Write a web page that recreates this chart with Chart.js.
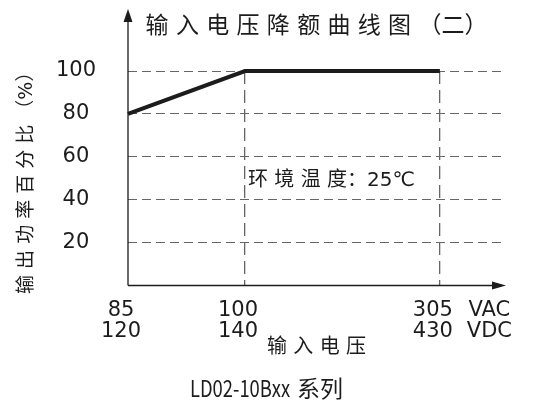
<!DOCTYPE html>
<html>
<head>
<meta charset="utf-8">
<script src="https://cdn.jsdelivr.net/npm/chart.js@4/dist/chart.umd.min.js"></script>
<style>
  html, body { margin: 0; padding: 0; background: #fff; }
  #wrap { width: 539px; height: 403px; }
</style>
</head>
<body>
<div id="wrap"><canvas id="derating"></canvas></div>
<script>
// input voltage marks (AC row / DC row) and where they sit on the schematic axis
const vacTicks = ['85', '100', '305']
const vdcTicks = ['120', '140', '430']
const unitLabel = ['VAC', 'VDC']
const tickSlots = [0, 3, 8]
const unitSlot = 9.45
const axisEnd = 9.67

// output power in % of rated load at each voltage mark
const loadPct = [80, 100, 100]
const yTicks = [20, 40, 60, 80, 100]

const ink = '#1c1c1c'
const gridGray = '#666666'
const sans = "'DejaVu Sans', 'Noto Sans CJK SC', sans-serif"
const cjk = "'Noto Sans CJK SC', sans-serif"

// axis lines with arrow heads, the ambient temperature note and the series caption
const axesPlugin = {
    id: 'axesArrows',
    afterDatasetsDraw(chart) {
        let { ctx, chartArea } = chart
        let { left, right, bottom } = chartArea
        let x = chart.scales.x, y = chart.scales.y
        ctx.save()
        ctx.strokeStyle = ink
        ctx.fillStyle = ink
        ctx.lineWidth = 1.3

        ctx.beginPath()
        ctx.moveTo(left, bottom)
        ctx.lineTo(left, 12)
        ctx.moveTo(left, bottom)
        ctx.lineTo(right - 4, bottom)
        ctx.stroke()

        ctx.beginPath()
        ctx.moveTo(left, 9)
        ctx.lineTo(left - 4.5, 22)
        ctx.lineTo(left + 4.5, 22)
        ctx.closePath()
        ctx.fill()

        ctx.beginPath()
        ctx.moveTo(right + 1, bottom)
        ctx.lineTo(right - 13, bottom - 4)
        ctx.lineTo(right - 13, bottom + 4)
        ctx.closePath()
        ctx.fill()

        ctx.font = '20px ' + sans
        ctx.textAlign = 'left'
        ctx.textBaseline = 'middle'
        let ty = (y.getPixelForValue(yTicks[1]) + y.getPixelForValue(yTicks[2])) / 2 + 3
        ctx.fillText('环 境 温 度：25℃', x.getPixelForValue(tickSlots[1]) + 3, ty)

        // model caption: the part number is set in a condensed face
        let model = 'LD02-10Bxx', series = '系列'
        ctx.font = '23px ' + cjk
        ctx.textBaseline = 'alphabetic'
        let squeeze = 0.8
        let mw = ctx.measureText(model).width * squeeze
        let sw = ctx.measureText(series).width
        let cx = chart.width / 2 - 3 - (mw + 7 + sw) / 2
        let by = chart.height - 6
        ctx.save()
        ctx.translate(cx, by)
        ctx.scale(squeeze, 1)
        ctx.fillText(model, 0, 0)
        ctx.restore()
        ctx.fillText(series, cx + mw + 7, by)
        ctx.restore()
    }
}

const points = tickSlots.map((s, i) => ({ x: s, y: loadPct[i] }))

new Chart(document.getElementById('derating'), {
    type: 'line',
    data: {
        datasets: [{
            data: points,
            borderColor: ink,
            borderWidth: 4,
            pointRadius: 0,
            tension: 0,
            clip: false
        }]
    },
    options: {
        responsive: true,
        maintainAspectRatio: false,
        animation: false,
        layout: { padding: { left: 0, right: 34, top: 0, bottom: 43 } },
        plugins: {
            legend: { display: false },
            tooltip: { enabled: false },
            title: {
                display: true,
                text: '输 入 电 压 降 额 曲 线 图 （二）',
                fullSize: false,
                color: ink,
                font: { family: sans, size: 23, weight: 'normal', lineHeight: 1.2 },
                padding: { top: 13.2, bottom: 30.2 }
            }
        },
        scales: {
            x: {
                type: 'linear',
                min: 0,
                max: axisEnd,
                afterBuildTicks: (scale) => {
                    scale.ticks = [...tickSlots, unitSlot].map(v => ({ value: v }))
                },
                afterFit: (scale) => { scale.height = 74.5 },
                grid: {
                    drawTicks: false,
                    lineWidth: 1.3,
                    color: (c) => (c.tick && c.tick.value > 0 && c.tick.value < unitSlot) ? gridGray : 'transparent'
                },
                border: { display: false, dash: [13, 6] },
                ticks: {
                    autoSkip: false,
                    maxRotation: 0,
                    padding: 15,
                    labelOffset: -7,
                    color: ink,
                    font: { family: sans, size: 21, lineHeight: 21 / 21 },
                    callback: (v, i) => i < vacTicks.length ? [vacTicks[i], vdcTicks[i]] : unitLabel
                },
                title: {
                    display: true,
                    text: '输 入 电 压',
                    color: ink,
                    font: { family: sans, size: 20, lineHeight: 1.2 },
                    padding: { top: 0, bottom: 0 }
                }
            },
            y: {
                min: 0,
                max: 100,
                afterBuildTicks: (scale) => {
                    scale.ticks = [0, ...yTicks].map(v => ({ value: v }))
                },
                afterFit: (scale) => { scale.width = 128 },
                grid: {
                    drawTicks: false,
                    lineWidth: 1,
                    color: (c) => (c.tick && c.tick.value > 0) ? gridGray : 'transparent'
                },
                border: { display: false, dash: [9, 5] },
                ticks: {
                    padding: 32,
                    crossAlign: 'center',
                    color: ink,
                    font: { family: sans, size: 21 },
                    callback: (v) => v === 0 ? '' : String(v)
                },
                title: {
                    display: true,
                    text: '输 出 功 率 百 分 比 （%）',
                    color: ink,
                    font: { family: sans, size: 19, lineHeight: 1.2 },
                    padding: { top: 16, bottom: 0 }
                }
            }
        }
    },
    plugins: [axesPlugin]
})
</script>
</body>
</html>
